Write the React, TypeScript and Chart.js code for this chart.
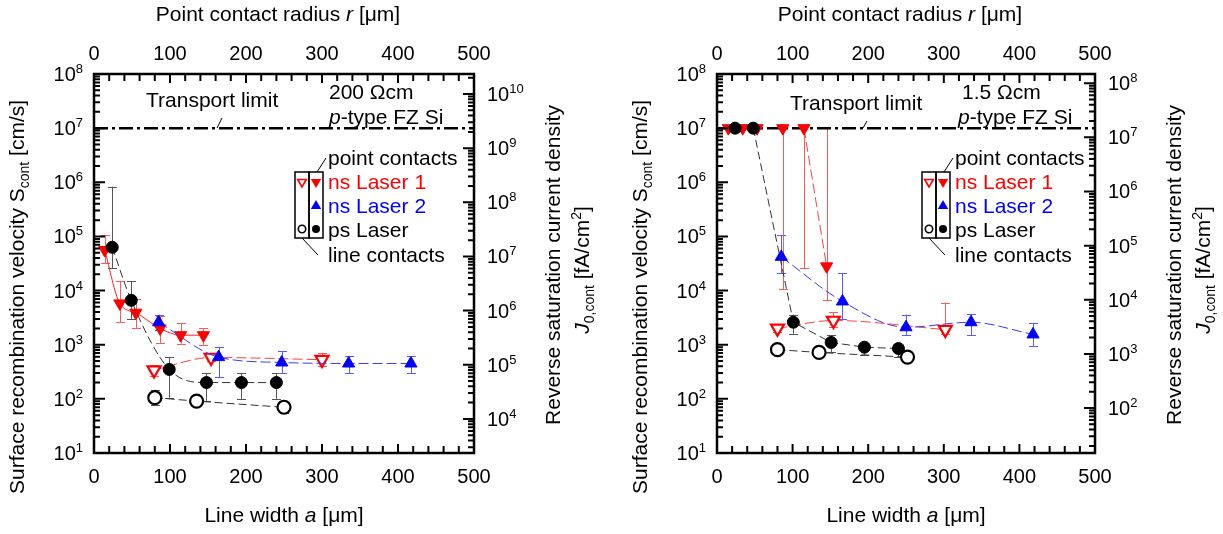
import React, { useEffect, useRef } from "react";
import { Chart, registerables } from "chart.js";

Chart.register(...registerables);

const FONT = "'Liberation Sans', Arial, Helvetica, sans-serif";
const CW = 612;
const CH = 534;
const PLOT_TOP = 74;
const PLOT_BOTTOM = 453;

// ---- axes / ticks ----
const X_TICKS = [0, 100, 200, 300, 400, 500];
const S_DECADES = [1, 2, 3, 4, 5, 6, 7, 8];
const LEFT_J_DECADES = [4, 5, 6, 7, 8, 9, 10];
const RIGHT_J_DECADES = [2, 3, 4, 5, 6, 7, 8];
const LEFT_J_OFFSET = 2.37; // log10(J0 / S), 200 Ωcm
const RIGHT_J_OFFSET = 0.17; // log10(J0 / S), 1.5 Ωcm
const TRANSPORT_LIMIT = 1e7;
const TRANSPORT_X = [0, 500];

// ---- left panel: 200 Ωcm ----
const L_NS1_PT_X = [14, 34, 55, 87, 114, 144];
const L_NS1_PT_Y = [56000, 5800, 3900, 2000, 1500, 1500];
const L_NS1_PT_LO = [32000, 2600, 2000, 1070, 1050, 1000];
const L_NS1_PT_HI = [105000, 15000, 7100, 3400, 2500, 2000];

const L_NS1_LN_X = [79, 154, 300];
const L_NS1_LN_Y = [340, 580, 530];
const L_NS1_LN_LO = [260, 500, 400];
const L_NS1_LN_HI = [420, 660, 710];

const L_NS2_PT_X = [85, 164, 247, 335, 417];
const L_NS2_PT_Y = [2600, 590, 470, 450, 450];
const L_NS2_PT_LO = [1900, 250, 300, 300, 300];
const L_NS2_PT_HI = [3600, 910, 760, 620, 620];

const L_PS_PT_X = [24, 49, 99, 148, 194, 240];
const L_PS_PT_Y = [63000, 6600, 350, 200, 200, 200];
const L_PS_PT_LO = [26000, 3000, 105, 91, 100, 100];
const L_PS_PT_HI = [830000, 15000, 590, 300, 300, 300];

const L_PS_LN_X = [80, 135, 250];
const L_PS_LN_Y = [105, 91, 70];
const L_PS_LN_LO = [76, 80, 54];
const L_PS_LN_HI = [148, 100, 85];

// ---- right panel: 1.5 Ωcm ----
const R_NS1_PT_X = [15, 34, 53, 87, 115, 145];
const R_NS1_PT_Y = [1e7, 1e7, 1e7, 1e7, 1e7, 28000];
const R_NS1_PT_LO = [null, null, null, 10700, 26000, 6600];
const R_NS1_PT_HI = [null, null, null, 1e7, 1e7, 1e7];

const R_NS1_LN_X = [80, 154, 302];
const R_NS1_LN_Y = [2000, 2800, 1900];
const R_NS1_LN_LO = [1700, 2100, 1600];
const R_NS1_LN_HI = [2300, 4000, 6000];

const R_NS2_PT_X = [85, 166, 250, 336, 418];
const R_NS2_PT_Y = [42000, 6300, 2100, 2600, 1550];
const R_NS2_PT_LO = [21000, 3000, 1500, 1500, 950];
const R_NS2_PT_HI = [105000, 21000, 3600, 3700, 2500];

const R_PS_PT_X = [24, 48, 101, 151, 195, 240];
const R_PS_PT_Y = [1e7, 1e7, 2600, 1100, 900, 850];
const R_PS_PT_LO = [null, null, 1600, 720, 650, 600];
const R_PS_PT_HI = [null, null, 3600, 1500, 1000, 950];

const R_PS_LN_X = [80, 135, 252];
const R_PS_LN_Y = [810, 720, 590];
const R_PS_LN_LO = [680, 620, 520];
const R_PS_LN_HI = [950, 820, 680];

const RED = "#ff0000";
const BLUE = "#0000ff";
const BLACK = "#000000";

type Series = {
  xs: number[];
  ys: number[];
  lo: (number | null)[];
  hi: (number | null)[];
  color: string;
  lineColor: string;
  errColor: string;
  dash: number[];
  shape: "down" | "up" | "circle";
  filled: boolean;
  r: number;
  smooth: boolean;
};

type Panel = {
  L: number;
  R: number;
  jOffset: number;
  jDecades: number[];
  resist: string;
  series: Series[];
  transportTextX: number;
  transportTextY: number;
  leader: number[];
  resistX: number;
  typeX: number;
  legendX: number;
};

function mk(
  xs: number[], ys: number[], lo: (number | null)[], hi: (number | null)[],
  color: string, lineColor: string, errColor: string, dash: number[],
  shape: "down" | "up" | "circle", filled: boolean, r: number, smooth = true
): Series {
  return { xs, ys, lo, hi, color, lineColor, errColor, dash, shape, filled, r, smooth };
}

const LEFT_PANEL: Panel = {
  L: 94,
  R: 474,
  jOffset: LEFT_J_OFFSET,
  jDecades: LEFT_J_DECADES,
  resist: "200 Ωcm",
  series: [
    mk(L_PS_LN_X, L_PS_LN_Y, L_PS_LN_LO, L_PS_LN_HI, BLACK, "#333333", "#555555", [8, 4], "circle", false, 6.5),
    mk(L_PS_PT_X, L_PS_PT_Y, L_PS_PT_LO, L_PS_PT_HI, BLACK, "#333333", "#555555", [8, 4], "circle", true, 6),
    mk(L_NS2_PT_X, L_NS2_PT_Y, L_NS2_PT_LO, L_NS2_PT_HI, BLUE, "#3a3aff", "#5a5aff", [10, 4], "up", true, 7),
    mk(L_NS1_LN_X, L_NS1_LN_Y, L_NS1_LN_LO, L_NS1_LN_HI, RED, "#ff4040", "#ff5a5a", [10, 4], "down", false, 7.5),
    mk(L_NS1_PT_X, L_NS1_PT_Y, L_NS1_PT_LO, L_NS1_PT_HI, RED, "#ff2020", "#ff5a5a", [], "down", true, 7),
  ],
  transportTextX: 52,
  transportTextY: 100,
  leader: [128, 118, 123, 128],
  resistX: 235,
  typeX: 235,
  legendX: 201,
};

const RIGHT_PANEL: Panel = {
  L: 106,
  R: 484,
  jOffset: RIGHT_J_OFFSET,
  jDecades: RIGHT_J_DECADES,
  resist: "1.5 Ωcm",
  series: [
    mk(R_PS_LN_X, R_PS_LN_Y, R_PS_LN_LO, R_PS_LN_HI, BLACK, "#333333", "#555555", [8, 4], "circle", false, 6.5),
    mk(R_PS_PT_X, R_PS_PT_Y, R_PS_PT_LO, R_PS_PT_HI, BLACK, "#333333", "#555555", [8, 4], "circle", true, 6, false),
    mk(R_NS2_PT_X, R_NS2_PT_Y, R_NS2_PT_LO, R_NS2_PT_HI, BLUE, "#3a3aff", "#5a5aff", [10, 4], "up", true, 7),
    mk(R_NS1_LN_X, R_NS1_LN_Y, R_NS1_LN_LO, R_NS1_LN_HI, RED, "#ff4040", "#ff5a5a", [10, 4], "down", false, 7.5),
    mk(R_NS1_PT_X, R_NS1_PT_Y, R_NS1_PT_LO, R_NS1_PT_HI, RED, "#ff4040", "#ff5a5a", [10, 4], "down", true, 7, false),
  ],
  transportTextX: 73,
  transportTextY: 103,
  leader: [150, 121, 146, 128],
  resistX: 245,
  typeX: 241,
  legendX: 205,
};

type Run = { t: string; size: number; dy?: number; italic?: boolean };

function fontOf(r: Run) {
  return `${r.italic ? "italic " : ""}${r.size}px ${FONT}`;
}

function richWidth(ctx: CanvasRenderingContext2D, runs: Run[]) {
  let w = 0;
  for (const r of runs) {
    ctx.font = fontOf(r);
    w += ctx.measureText(r.t).width;
  }
  return w;
}

function drawRich(
  ctx: CanvasRenderingContext2D, runs: Run[], x: number, y: number,
  align: "left" | "center" | "right", color: string
) {
  const w = richWidth(ctx, runs);
  let cx = align === "left" ? x : align === "center" ? x - w / 2 : x - w;
  ctx.fillStyle = color;
  ctx.textBaseline = "alphabetic";
  ctx.textAlign = "left";
  for (const r of runs) {
    ctx.font = fontOf(r);
    ctx.fillText(r.t, cx, y + (r.dy || 0));
    cx += ctx.measureText(r.t).width;
  }
}

function drawRotated(ctx: CanvasRenderingContext2D, runs: Run[], cx: number, cy: number, color: string) {
  ctx.save();
  ctx.translate(cx, cy);
  ctx.rotate(-Math.PI / 2);
  drawRich(ctx, runs, 0, 7, "center", color);
  ctx.restore();
}

function marker(ctx: CanvasRenderingContext2D, shape: string, x: number, y: number, r: number, color: string, filled: boolean) {
  ctx.beginPath();
  if (shape === "circle") {
    ctx.arc(x, y, r, 0, Math.PI * 2);
  } else {
    const s = shape === "down" ? 1 : -1;
    const h = r * 1.5;
    const w = r * 0.87;
    ctx.moveTo(x, y + s * h * 0.6667);
    ctx.lineTo(x - w, y - s * h * 0.3333);
    ctx.lineTo(x + w, y - s * h * 0.3333);
    ctx.closePath();
  }
  if (filled) {
    ctx.fillStyle = color;
    ctx.fill();
  } else {
    ctx.fillStyle = "#ffffff";
    ctx.fill();
    ctx.strokeStyle = color;
    ctx.lineWidth = 1.6;
    ctx.stroke();
  }
}

function makePlugin(panel: Panel) {
  return {
    id: "decor",
    beforeDatasetsDraw(chart: any) {
      const ctx: CanvasRenderingContext2D = chart.ctx;
      const xs = chart.scales.x;
      const ys = chart.scales.y;
      const a = chart.chartArea;
      ctx.save();
      ctx.beginPath();
      ctx.rect(a.left, a.top, a.right - a.left, a.bottom - a.top);
      ctx.clip();
      for (const s of panel.series) {
        ctx.strokeStyle = s.errColor;
        ctx.lineWidth = 1;
        s.xs.forEach((xv, i) => {
          const lo = s.lo[i];
          const hi = s.hi[i];
          if (lo == null && hi == null) return;
          const px = Math.round(xs.getPixelForValue(xv)) + 0.5;
          const y0 = ys.getPixelForValue(lo == null ? s.ys[i] : lo);
          const y1 = ys.getPixelForValue(hi == null ? s.ys[i] : hi);
          ctx.beginPath();
          ctx.moveTo(px, y0);
          ctx.lineTo(px, y1);
          if (lo != null) {
            ctx.moveTo(px - 4.5, Math.round(y0) + 0.5);
            ctx.lineTo(px + 4.5, Math.round(y0) + 0.5);
          }
          if (hi != null && hi < TRANSPORT_LIMIT) {
            ctx.moveTo(px - 4.5, Math.round(y1) + 0.5);
            ctx.lineTo(px + 4.5, Math.round(y1) + 0.5);
          }
          ctx.stroke();
        });
      }
      ctx.restore();
    },
    afterDatasetsDraw(chart: any) {
      const ctx: CanvasRenderingContext2D = chart.ctx;
      const xs = chart.scales.x;
      const x2 = chart.scales.x2;
      const ys = chart.scales.y;
      const y2 = chart.scales.y2;
      const a = chart.chartArea;
      const L = a.left;
      const R = a.right;
      const T = a.top;
      const B = a.bottom;
      ctx.save();

      // ticks
      ctx.strokeStyle = "#000";
      ctx.lineWidth = 2;
      ctx.beginPath();
      for (let v = 0; v <= 500; v += 20) {
        const major = v % 100 === 0;
        const len = major ? 9 : 7;
        const px = xs.getPixelForValue(v);
        ctx.moveTo(px, B);
        ctx.lineTo(px, B - len);
        const pt = x2.getPixelForValue(v);
        ctx.moveTo(pt, T);
        ctx.lineTo(pt, T + len);
      }
      for (let e = 1; e <= 8; e++) {
        for (let k = 1; k <= 9; k++) {
          const v = k * Math.pow(10, e);
          if (v > 1e8 + 1) break;
          const py = ys.getPixelForValue(v);
          const len = k === 1 ? 11 : 6;
          ctx.moveTo(L, py);
          ctx.lineTo(L + len, py);
        }
      }
      const jMin = y2.min;
      const jMax = y2.max;
      for (let e = Math.floor(Math.log10(jMin)); e <= Math.ceil(Math.log10(jMax)); e++) {
        for (let k = 1; k <= 9; k++) {
          const v = k * Math.pow(10, e);
          if (v < jMin || v > jMax) continue;
          const py = y2.getPixelForValue(v);
          const len = k === 1 ? 11 : 6;
          ctx.moveTo(R, py);
          ctx.lineTo(R - len, py);
        }
      }
      ctx.stroke();

      // frame
      ctx.lineWidth = 2.5;
      ctx.strokeRect(L, T, R - L, B - T);

      // tick labels
      ctx.fillStyle = "#000";
      ctx.font = `20px ${FONT}`;
      ctx.textAlign = "center";
      ctx.textBaseline = "middle";
      for (const v of X_TICKS) {
        ctx.fillText(String(v), xs.getPixelForValue(v), 477);
        ctx.fillText(String(v), x2.getPixelForValue(v), 54);
      }
      for (const d of S_DECADES) {
        const py = ys.getPixelForValue(Math.pow(10, d));
        drawRich(ctx, [{ t: "10", size: 20 }, { t: String(d), size: 13, dy: -8 }], L - 11, py + 7, "right", "#000");
      }
      for (const d of panel.jDecades) {
        const py = y2.getPixelForValue(Math.pow(10, d));
        drawRich(ctx, [{ t: "10", size: 20 }, { t: String(d), size: 13, dy: -8 }], R + 13, py + 7, "left", "#000");
      }

      // axis titles
      const cxm = (L + R) / 2;
      drawRich(ctx, [{ t: "Point contact radius ", size: 21 }, { t: "r", size: 21, italic: true }, { t: " [μm]", size: 21 }], cxm - 6, 21, "center", "#000");
      drawRich(ctx, [{ t: "Line width ", size: 21 }, { t: "a", size: 21, italic: true }, { t: " [μm]", size: 21 }], cxm, 522, "center", "#000");
      drawRotated(ctx, [
        { t: "Surface recombination velocity S", size: 21 },
        { t: "cont", size: 14, dy: 5 },
        { t: " [cm/s]", size: 21 },
      ], L - 77, 297, "#000");
      drawRotated(ctx, [{ t: "Reverse saturation current density", size: 21 }], R + 79, 265, "#000");
      drawRotated(ctx, [
        { t: "J", size: 21, italic: true },
        { t: "0,cont", size: 14, dy: 5 },
        { t: " [fA/cm", size: 21 },
        { t: "2", size: 14, dy: -8 },
        { t: "]", size: 21 },
      ], R + 108, 270, "#000");

      // annotations
      drawRich(ctx, [{ t: "Transport limit", size: 21 }], L + panel.transportTextX, panel.transportTextY + 7, "left", "#000");
      ctx.lineWidth = 1;
      ctx.beginPath();
      ctx.moveTo(L + panel.leader[0], panel.leader[1]);
      ctx.lineTo(L + panel.leader[2], panel.leader[3]);
      ctx.stroke();
      drawRich(ctx, [{ t: panel.resist, size: 21 }], L + panel.resistX, 99, "left", "#000");
      drawRich(ctx, [{ t: "p", size: 21, italic: true }, { t: "-type FZ Si", size: 21 }], L + panel.typeX, 124, "left", "#000");

      // legend
      const lx = L + panel.legendX;
      ctx.lineWidth = 1.5;
      ctx.strokeStyle = "#000";
      ctx.strokeRect(lx, 172, 14, 66);
      ctx.strokeRect(lx + 14, 172, 14, 66);
      const c1 = lx + 7;
      const c2 = lx + 21;
      marker(ctx, "down", c1, 182, 5, RED, false);
      marker(ctx, "down", c2, 182, 6, RED, true);
      marker(ctx, "up", c2, 206, 6, BLUE, true);
      marker(ctx, "circle", c1, 229, 3.7, BLACK, false);
      marker(ctx, "circle", c2, 229, 4, BLACK, true);
      const tx = lx + 33;
      drawRich(ctx, [{ t: "point contacts", size: 21 }], tx, 165, "left", "#000");
      drawRich(ctx, [{ t: "ns Laser 1", size: 21 }], tx, 189, "left", RED);
      drawRich(ctx, [{ t: "ns Laser 2", size: 21 }], tx, 213, "left", BLUE);
      drawRich(ctx, [{ t: "ps Laser", size: 21 }], tx, 237, "left", "#000");
      drawRich(ctx, [{ t: "line contacts", size: 21 }], tx, 262, "left", "#000");
      ctx.lineWidth = 1;
      ctx.beginPath();
      ctx.moveTo(tx - 2, 158);
      ctx.lineTo(c2 + 1, 172);
      ctx.moveTo(c1, 238);
      ctx.lineTo(tx - 10, 255);
      ctx.stroke();

      ctx.restore();
    },
  };
}

function buildConfig(panel: Panel): any {
  const transparent = "rgba(0,0,0,0)";
  const datasets: any[] = panel.series.map((s) => ({
    type: "line",
    data: s.xs.map((x, i) => ({ x, y: s.ys[i] })),
    showLine: true,
    borderColor: s.lineColor,
    borderWidth: 1,
    borderDash: s.dash,
    cubicInterpolationMode: s.smooth ? "monotone" : "default",
    tension: 0,
    fill: false,
    pointStyle: s.shape === "circle" ? "circle" : "triangle",
    rotation: s.shape === "down" ? 180 : 0,
    pointRadius: s.r,
    pointBackgroundColor: s.filled ? s.color : "#ffffff",
    pointBorderColor: s.color,
    pointBorderWidth: s.filled ? 1 : 2.2,
    segment: {
      borderColor: (c: any) =>
        c.p0.parsed.y >= TRANSPORT_LIMIT && c.p1.parsed.y >= TRANSPORT_LIMIT ? transparent : s.lineColor,
    },
  }));
  datasets.push({
    type: "line",
    data: TRANSPORT_X.map((x) => ({ x, y: TRANSPORT_LIMIT })),
    borderColor: "#000",
    borderWidth: 2.5,
    borderDash: [14, 4, 3, 4],
    pointRadius: 0,
    fill: false,
  });
  const jMin = Math.pow(10, 1 + panel.jOffset);
  const jMax = Math.pow(10, 8 + panel.jOffset);
  return {
    type: "scatter",
    data: { datasets },
    options: {
      animation: false,
      responsive: false,
      devicePixelRatio: 1,
      layout: {
        autoPadding: false,
        padding: { left: panel.L, right: CW - panel.R, top: PLOT_TOP, bottom: CH - PLOT_BOTTOM },
      },
      plugins: { legend: { display: false }, tooltip: { enabled: false } },
      scales: {
        x: { type: "linear", min: 0, max: 500, display: false },
        x2: { type: "linear", position: "top", min: 0, max: 500, display: false },
        y: { type: "logarithmic", min: 10, max: 1e8, display: false },
        y2: { type: "logarithmic", position: "right", min: jMin, max: jMax, display: false },
      },
    },
    plugins: [makePlugin(panel)],
  };
}

function PanelChart({ panel, left }: { panel: Panel; left: number }) {
  const ref = useRef<HTMLCanvasElement | null>(null);
  useEffect(() => {
    if (!ref.current) return;
    const chart = new Chart(ref.current, buildConfig(panel));
    return () => chart.destroy();
  }, [panel]);
  return (
    <canvas
      ref={ref}
      width={CW}
      height={CH}
      style={{ position: "absolute", left, top: 0, width: CW, height: CH }}
    />
  );
}

export default function App() {
  return (
    <div style={{ position: "absolute", left: 0, top: 0, width: 1223, height: 534, background: "#fff", overflow: "hidden" }}>
      <PanelChart panel={LEFT_PANEL} left={0} />
      <PanelChart panel={RIGHT_PANEL} left={611} />
    </div>
  );
}
